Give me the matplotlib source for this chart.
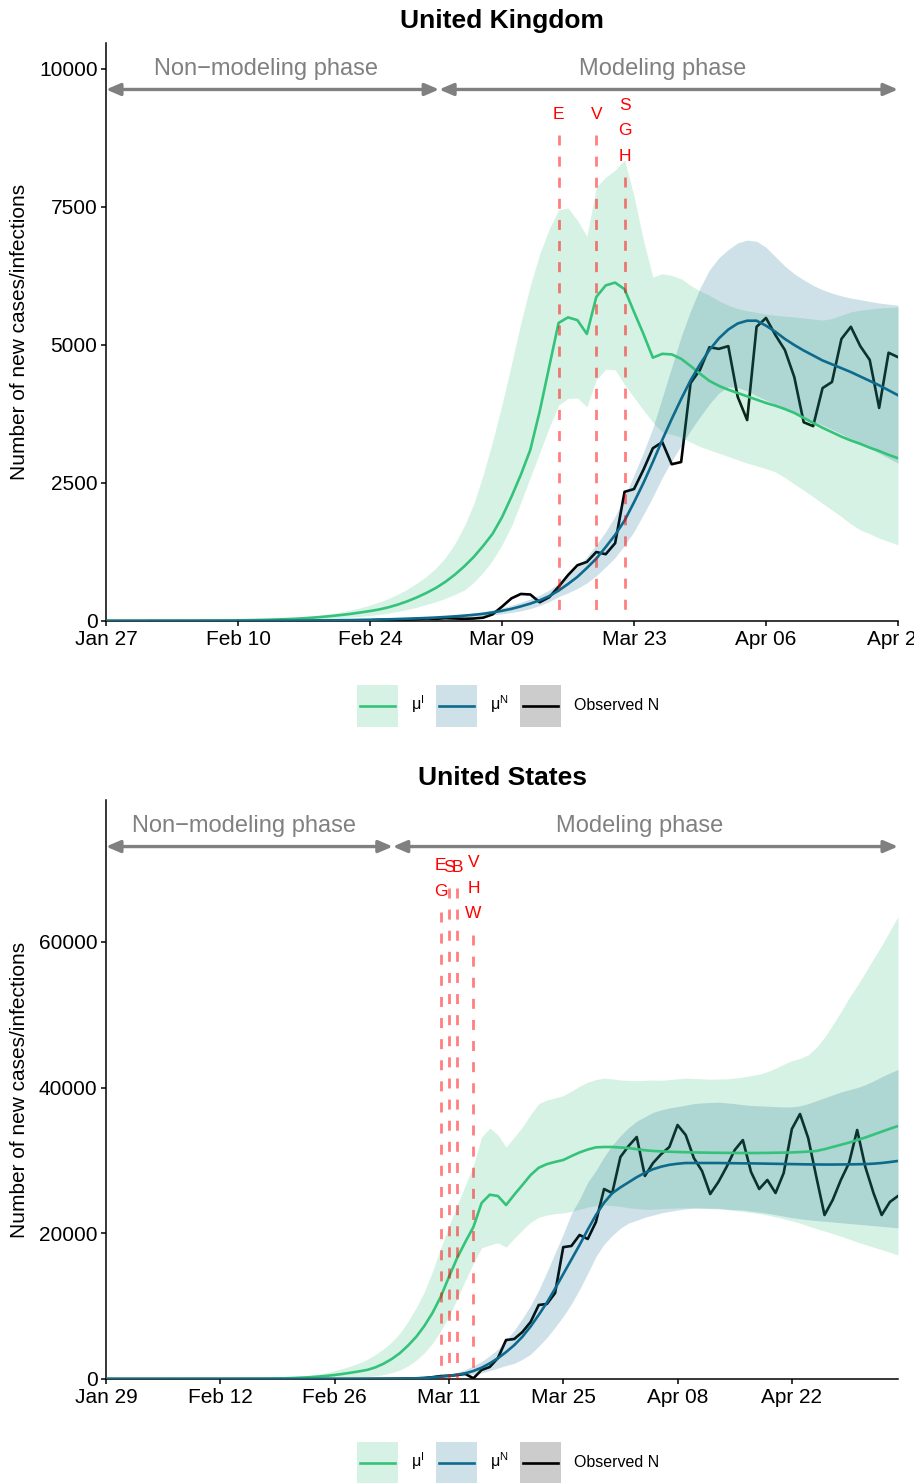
import numpy as np
import pandas as pd
import matplotlib
matplotlib.use("Agg")
import matplotlib.pyplot as plt
import matplotlib.dates as mdates
import matplotlib.transforms as mtransforms
from matplotlib.patches import Rectangle
from matplotlib.lines import Line2D
from matplotlib.legend_handler import HandlerBase

plt.rcParams['font.family'] = ['Liberation Sans', 'DejaVu Sans']
plt.rcParams['mathtext.fontset'] = 'custom'
plt.rcParams['mathtext.rm'] = 'Liberation Sans'

# ---------------- United Kingdom ----------------
UK_START = '2020-01-27'
UK_SPLIT = '2020-03-02 08:00'
UK_YMAX = 10471
UK_YTICKS = [0, 2500, 5000, 7500, 10000]

uk_mu_i = [1, 1, 2, 2, 2, 3, 3, 4, 4, 5,
           6, 7, 9, 10, 12, 15, 18, 22, 27, 33,
           40, 50, 62, 76, 92, 110, 130, 155, 180, 210,
           250, 300, 360, 430, 510, 600, 710, 840, 990, 1160,
           1360, 1580, 1880, 2250, 2650, 3100, 3800, 4600, 5400, 5500,
           5450, 5200, 5870, 6080, 6130, 6010, 5600, 5200, 4770, 4840,
           4830, 4750, 4620, 4480, 4350, 4260, 4190, 4130, 4070, 4010,
           3950, 3900, 3840, 3770, 3680, 3590, 3500, 3420, 3340, 3270,
           3210, 3140, 3080, 3010, 2950]
uk_mu_i_hi = [2, 2, 3, 3, 3, 4, 5, 6, 6, 7,
              9, 10, 13, 15, 18, 22, 26, 32, 39, 48,
              58, 72, 90, 110, 135, 165, 200, 240, 290, 345,
              410, 490, 580, 690, 810, 960, 1150, 1400, 1720, 2120,
              2650, 3250, 3920, 4650, 5400, 6080, 6650, 7100, 7450, 7480,
              7260, 6970, 7860, 8040, 8170, 8350, 7700, 6900, 6230, 6290,
              6260, 6200, 6080, 5980, 5900, 5800, 5720, 5660, 5620, 5590,
              5560, 5540, 5520, 5510, 5490, 5470, 5450, 5480, 5540, 5600,
              5630, 5650, 5670, 5680, 5690]
uk_mu_i_lo = [0, 1, 1, 1, 1, 1, 2, 2, 2, 3,
              3, 4, 5, 5, 6, 8, 10, 12, 15, 18,
              22, 27, 33, 40, 50, 60, 72, 85, 100, 120,
              145, 175, 210, 250, 300, 350, 410, 480, 560, 700,
              880, 1100, 1380, 1720, 2150, 2600, 3050, 3500, 3910, 4030,
              4040, 3880, 4370, 4560, 4550, 4280, 4050, 3820, 3600, 3420,
              3380, 3330, 3240, 3160, 3100, 3040, 2980, 2920, 2860, 2810,
              2760, 2700, 2600, 2480, 2370, 2250, 2130, 2010, 1890, 1760,
              1650, 1580, 1500, 1440, 1380]
uk_mu_n = [0, 0, 0, 0, 0, 1, 1, 1, 1, 1,
           1, 2, 2, 2, 3, 3, 4, 4, 5, 6,
           7, 8, 9, 11, 13, 15, 17, 20, 23, 27,
           31, 36, 42, 48, 55, 63, 73, 84, 97, 112,
           130, 155, 185, 220, 265, 315, 375, 450, 550, 670,
           800, 960, 1130, 1340, 1560, 1820, 2150, 2500, 2880, 3280,
           3660, 4020, 4360, 4650, 4910, 5120, 5280, 5390, 5440, 5440,
           5350, 5240, 5110, 5000, 4900, 4810, 4720, 4650, 4580, 4510,
           4430, 4350, 4270, 4180, 4090]
uk_mu_n_hi = [0, 0, 0, 0, 0, 1, 1, 1, 1, 1,
              1, 2, 3, 3, 4, 4, 5, 5, 6, 8,
              9, 10, 12, 14, 17, 20, 22, 26, 30, 35,
              40, 47, 55, 62, 72, 82, 95, 110, 126, 146,
              170, 200, 240, 285, 340, 400, 470, 560, 680, 820,
              980, 1160, 1380, 1620, 1900, 2250, 2650, 3050, 3500, 4050,
              4600, 5150, 5620, 6030, 6360, 6580, 6730, 6850, 6900, 6880,
              6770, 6600, 6430, 6290, 6180, 6080, 6000, 5940, 5890, 5850,
              5820, 5790, 5760, 5740, 5720]
uk_mu_n_lo = [0, 0, 0, 0, 0, 0, 0, 0, 0, 0,
              0, 1, 1, 1, 2, 2, 3, 3, 4, 4,
              5, 6, 7, 8, 9, 11, 12, 14, 17, 20,
              23, 27, 31, 35, 40, 46, 53, 61, 70, 81,
              94, 110, 130, 155, 185, 225, 280, 350, 440, 510,
              590, 690, 820, 980, 1150, 1370, 1620, 1930, 2250, 2600,
              2900, 3180, 3450, 3700, 3930, 4130, 4240, 4230, 4170, 4080,
              4000, 3930, 3850, 3780, 3700, 3620, 3550, 3470, 3390, 3300,
              3220, 3130, 3040, 2950, 2860]
uk_observed = [0, 0, 0, 0, 0, 1, 0, 0, 1, 0,
               1, 0, 0, 0, 1, 0, 1, 0, 0, 0,
               0, 0, 1, 2, 3, 5, 5, 13, 12, 20,
               20, 25, 30, 35, 45, 40, 50, 45, 40, 45,
               60, 120, 260, 410, 490, 480, 340, 430, 620, 830,
               1010, 1070, 1250, 1210, 1410, 2340, 2390, 2740, 3130, 3240,
               2840, 2880, 4310, 4550, 4960, 4930, 4980, 4060, 3640, 5330,
               5490, 5180, 4910, 4420, 3600, 3530, 4220, 4330, 5110, 5330,
               4980, 4730, 3860, 4860, 4780]

uk_event_dates = ['2020-03-15', '2020-03-19', '2020-03-22']
uk_event_labels = ['E', 'V', 'SGH']
uk_event_tops = [8800, 8800, 8040]

# ---------------- United States ----------------
US_START = '2020-01-29'
US_SPLIT = '2020-03-04 03:00'
US_YMAX = 79480
US_YTICKS = [0, 20000, 40000, 60000]

us_mu_i = [1, 1, 1, 2, 2, 2, 3, 3, 4, 5,
           6, 7, 9, 11, 14, 17, 22, 28, 35, 45,
           57, 75, 100, 140, 190, 250, 330, 430, 550, 700,
           870, 1050, 1250, 1600, 2100, 2750, 3560, 4600, 5800, 7300,
           9100, 11300, 14000, 16600, 18800, 20870, 24160, 25300, 25120, 23880,
           25300, 26630, 28000, 29000, 29500, 29800, 30060, 30600, 31100, 31500,
           31800, 31850, 31850, 31780, 31700, 31550, 31400, 31300, 31250, 31200,
           31160, 31130, 31100, 31080, 31060, 31050, 31040, 31030, 31020, 31020,
           31030, 31040, 31060, 31080, 31100, 31150, 31220, 31300, 31550, 31850,
           32150, 32450, 32800, 33150, 33550, 33950, 34350, 34730]
us_mu_i_hi = [2, 2, 2, 4, 4, 4, 7, 7, 9, 11,
              13, 15, 20, 24, 31, 37, 48, 62, 77, 99,
              125, 165, 220, 300, 410, 520, 680, 880, 1150, 1450,
              1800, 2200, 2700, 3350, 4150, 5100, 6300, 7900, 9800, 12000,
              14800, 18000, 21000, 23800, 26600, 29300, 33220, 34450, 33500, 31850,
              33200, 34600, 36300, 37800, 38300, 38600, 38900, 39500, 40200, 40750,
              41100, 41300, 41200, 41050, 41000, 40950, 41000, 41050, 41000, 41100,
              41200, 41300, 41250, 41200, 41150, 41180, 41200, 41300, 41450, 41650,
              41850, 42200, 42650, 43200, 43700, 44000, 44500, 45500, 46900, 48600,
              50400, 52300, 54000, 55800, 57700, 59500, 61500, 63500]
us_mu_i_lo = [0, 0, 0, 1, 1, 1, 1, 1, 1, 2,
              2, 2, 3, 3, 4, 5, 6, 8, 10, 13,
              16, 20, 26, 34, 45, 58, 75, 95, 120, 150,
              190, 240, 320, 440, 600, 880, 1240, 1800, 2600, 3600,
              4900, 6600, 8600, 11000, 13500, 15900, 18000, 18400, 18700, 18100,
              19300, 20450, 21500, 22200, 22500, 22700, 22800, 23000, 23300, 23600,
              23800, 23900, 23800, 23700, 23500, 23400, 23300, 23300, 23400, 23450,
              23500, 23500, 23500, 23450, 23450, 23450, 23300, 23100, 23000, 22850,
              22700, 22500, 22250, 22000, 21700, 21400, 21000, 20650, 20300, 19950,
              19600, 19200, 18800, 18450, 18100, 17750, 17400, 17020]
us_mu_n = [0, 0, 0, 0, 0, 0, 0, 0, 0, 0,
           0, 0, 0, 0, 0, 1, 1, 1, 1, 2,
           2, 3, 3, 4, 5, 6, 7, 9, 11, 13,
           16, 19, 23, 28, 34, 41, 50, 70, 100, 150,
           220, 320, 440, 600, 780, 1100, 1550, 2150, 2850, 3700,
           4650, 5800, 7200, 8800, 10500, 12400, 14400, 16400, 18400, 20500,
           22500, 24200, 25500, 26300, 27000, 27700, 28300, 28800, 29150, 29400,
           29550, 29650, 29650, 29650, 29650, 29650, 29630, 29620, 29600, 29600,
           29580, 29560, 29540, 29520, 29500, 29480, 29460, 29450, 29440, 29440,
           29450, 29460, 29480, 29500, 29560, 29650, 29780, 29930]
us_mu_n_hi = [0, 0, 0, 0, 0, 0, 0, 0, 0, 0,
              0, 0, 0, 0, 0, 1, 1, 1, 1, 3,
              3, 4, 4, 6, 7, 8, 10, 13, 15, 18,
              22, 27, 32, 39, 48, 57, 70, 98, 140, 210,
              310, 450, 620, 850, 1300, 1800, 2400, 3200, 4100, 5300,
              6700, 8300, 10100, 12200, 14700, 17300, 19900, 22700, 24700, 27000,
              28600, 30500, 32100, 33400, 34500, 35400, 36000, 36600, 36950, 37200,
              37400, 37600, 37800, 37900, 37950, 38000, 37900, 37800, 37650, 37550,
              37500, 37450, 37400, 37350, 37350, 37500, 37800, 38200, 38600, 39000,
              39400, 39700, 40000, 40400, 40900, 41500, 42000, 42500]
us_mu_n_lo = [0, 0, 0, 0, 0, 0, 0, 0, 0, 0,
              0, 0, 0, 0, 0, 0, 0, 0, 0, 1,
              1, 2, 2, 3, 3, 4, 5, 6, 8, 9,
              11, 13, 16, 19, 24, 29, 35, 49, 70, 105,
              150, 220, 300, 400, 500, 650, 850, 1150, 1500, 1850,
              2150, 2700, 3400, 4500, 5700, 7100, 8600, 10300, 12300, 14500,
              16800, 18500, 19700, 20700, 21400, 21800, 22200, 22500, 22800, 23000,
              23200, 23350, 23450, 23450, 23400, 23350, 23300, 23250, 23200, 23050,
              22900, 22750, 22550, 22350, 22150, 22000, 21850, 21750, 21650, 21550,
              21450, 21350, 21250, 21150, 21050, 20950, 20850, 20750]
us_observed = [0, 0, 0, 0, 0, 0, 0, 0, 0, 0,
               0, 0, 0, 0, 0, 0, 0, 0, 0, 0,
               0, 0, 0, 0, 0, 0, 0, 1, 1, 2,
               3, 5, 10, 15, 20, 30, 40, 60, 80, 120,
               250, 400, 450, 550, 700, 100, 1240, 1650, 2880, 5350,
               5490, 6450, 7820, 10160, 10300, 11800, 18100, 18260, 19770, 19220,
               21550, 26080, 25530, 30470, 31980, 33220, 27870, 29650, 30880, 31850,
               34870, 33490, 30330, 28550, 25390, 27040, 29100, 31430, 32800, 28420,
               26080, 27320, 25530, 28280, 34320, 36380, 33080, 27730, 22510, 24570,
               27320, 29650, 34180, 29100, 25530, 22510, 24300, 25120]

us_event_dates = ['2020-03-10', '2020-03-11', '2020-03-12', '2020-03-14']
us_event_labels = ['EG', 'S', 'B', 'VHW']
us_event_tops = [64100, 67400, 67400, 60950]

# ---------------- styling ----------------
GREEN = '#35C27A'
BLUE = '#0E6A8C'
GREY = '#808080'
LINE_W = 1.9
PX = 72 / 100  # points per pixel at 100 dpi

FIG_W, FIG_H = 914, 1483
fig = plt.figure(figsize=(FIG_W / 100, FIG_H / 100), dpi=100)


class LegendKey:
    """Legend entry: translucent band swatch with the series line across it."""
    def __init__(self, color):
        self.color = color


class HandlerBandLine(HandlerBase):
    def create_artists(self, legend, orig_handle, xdescent, ydescent,
                       width, height, fontsize, trans):
        rect = Rectangle((-xdescent, -ydescent), width, height,
                         facecolor=orig_handle.color, alpha=0.2, lw=0,
                         transform=trans)
        yc = -ydescent + height / 2
        line = Line2D([-xdescent + 0.07 * width, -xdescent + 0.93 * width],
                      [yc, yc], color=orig_handle.color, lw=LINE_W,
                      transform=trans)
        return [rect, line]


def panel_axes(top_px, bottom_px, left_px=106, right_px=898):
    return fig.add_axes([left_px / FIG_W, 1 - bottom_px / FIG_H,
                         (right_px - left_px) / FIG_W, (bottom_px - top_px) / FIG_H])


def draw_panel(ax, title, start, split, ymax, yticks,
               mu_i, mu_i_lo, mu_i_hi, mu_n, mu_n_lo, mu_n_hi, observed,
               ev_dates, ev_labels, ev_tops):
    dates = pd.date_range(start, periods=len(mu_i), freq='D')

    ax.plot(dates, observed, color='black', lw=LINE_W, zorder=2)
    ax.fill_between(dates, mu_i_lo, mu_i_hi, color=GREEN, alpha=0.2, lw=0, zorder=3)
    ax.fill_between(dates, mu_n_lo, mu_n_hi, color=BLUE, alpha=0.2, lw=0, zorder=3)
    ax.plot(dates, mu_i, color=GREEN, lw=LINE_W, zorder=4)
    ax.plot(dates, mu_n, color=BLUE, lw=LINE_W, zorder=4)

    # intervention dates with stacked letter codes
    for d, lab, top in zip(ev_dates, ev_labels, ev_tops):
        d = pd.Timestamp(d)
        ax.plot([d, d], [top, 0], color='red', alpha=0.5, lw=2.0,
                linestyle=(0, (3.6, 4.0)), zorder=5)
        for i, ch in enumerate(reversed(lab)):
            ax.annotate(ch, xy=(d, top), xytext=(0, (21 + 25.5 * i) * PX),
                        textcoords='offset points', ha='center', va='center',
                        color='red', fontsize=12.5, zorder=6)

    # phase arrows
    trans = mtransforms.blended_transform_factory(ax.transData, ax.transAxes)
    x0 = mdates.date2num(dates[0])
    x1 = mdates.date2num(dates[-1])
    xs = mdates.date2num(pd.Timestamp(split))
    arrow = dict(arrowstyle='<|-|>,head_length=0.42,head_width=0.18',
                 color=GREY, lw=2.4, shrinkA=0, shrinkB=0, mutation_scale=20)
    for a, b, txt in [(x0, xs, 'Non\u2212modeling phase'), (xs, x1, 'Modeling phase')]:
        ax.annotate('', xy=(b, 0.9196), xytext=(a, 0.9196),
                    xycoords=trans, textcoords=trans, arrowprops=arrow,
                    annotation_clip=False)
        ax.text((a + b) / 2 - 0.65, 0.9555, txt, transform=trans, ha='center',
                va='center', color=GREY, fontsize=17)

    ax.set_xlim(dates[0], dates[-1])
    ax.set_ylim(0, ymax)
    ticks = pd.date_range(dates[0], dates[-1], freq='14D')
    ax.set_xticks(ticks)
    ax.set_xticklabels([t.strftime('%b %d') for t in ticks])
    ax.set_yticks(yticks)
    ax.set_yticklabels([str(v) for v in yticks])

    for s in ['top', 'right']:
        ax.spines[s].set_visible(False)
    for s in ['left', 'bottom']:
        ax.spines[s].set_linewidth(1.1)
        ax.spines[s].set_color('black')
    ax.tick_params(axis='both', direction='out', length=3.6, width=1.1,
                   colors='black', labelsize=15)
    ax.tick_params(axis='x', pad=3.0)
    ax.tick_params(axis='y', pad=2.5)

    ax.set_ylabel('Number of new cases/infections', fontsize=15)
    ax.yaxis.set_label_coords((20 - 106) / 792, 0.5)
    ax.yaxis.label.set_verticalalignment('center')
    ax.set_title(title, fontsize=19, fontweight='bold', pad=10.8)


def add_legend(center_y_px):
    handles = [LegendKey(GREEN), LegendKey(BLUE), LegendKey('black')]
    labels = ['\u03bc$^{\\mathrm{I}}$', '\u03bc$^{\\mathrm{N}}$', 'Observed N']
    fig.legend(handles, labels,
               handler_map={LegendKey: HandlerBandLine()},
               ncol=3, loc='center', bbox_to_anchor=(508 / FIG_W, 1 - center_y_px / FIG_H),
               frameon=False, fontsize=11.5, handlelength=2.6, handleheight=3.66,
               handletextpad=0.8, columnspacing=0.7, borderpad=0.2)


ax_uk = panel_axes(43, 621)
draw_panel(ax_uk, 'United Kingdom', UK_START, UK_SPLIT, UK_YMAX, UK_YTICKS,
           uk_mu_i, uk_mu_i_lo, uk_mu_i_hi, uk_mu_n, uk_mu_n_lo, uk_mu_n_hi,
           uk_observed, uk_event_dates, uk_event_labels, uk_event_tops)
add_legend(706)

ax_us = panel_axes(800, 1379)
draw_panel(ax_us, 'United States', US_START, US_SPLIT, US_YMAX, US_YTICKS,
           us_mu_i, us_mu_i_lo, us_mu_i_hi, us_mu_n, us_mu_n_lo, us_mu_n_hi,
           us_observed, us_event_dates, us_event_labels, us_event_tops)
add_legend(1463)

fig.savefig('out.png', dpi=100, facecolor='white')
